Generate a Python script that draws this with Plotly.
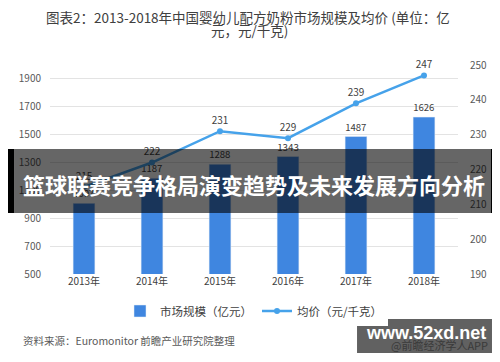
import plotly.graph_objects as go

years = ["2013年", "2014年", "2015年", "2016年", "2017年", "2018年"]
market_size = [1007, 1187, 1288, 1343, 1487, 1626]
avg_price = [215, 222, 231, 229, 239, 247]

FONT = "Noto Sans CJK SC, Noto Sans, sans-serif"
BAR_C = "#3F86E0"
LINE_C = "#46A2EA"

# the page body has an 8px margin, so the figure is drawn 8px smaller
W, H = 492, 354

fig = go.Figure()
fig.add_trace(go.Bar(
    x=years, y=market_size, name="市场规模（亿元）",
    marker=dict(color=BAR_C), width=0.32,
    text=[str(v) for v in market_size], textposition="outside",
    textfont=dict(size=10, color="#404040", family=FONT),
    cliponaxis=False,
))
fig.add_trace(go.Scatter(
    x=years, y=avg_price, name="均价（元/千克）", yaxis="y2",
    mode="lines+markers+text",
    line=dict(color=LINE_C, width=2.5),
    marker=dict(color=LINE_C, size=6),
    text=[str(v) for v in avg_price], textposition="top center",
    textfont=dict(size=10, color="#404040", family=FONT),
    cliponaxis=False,
))

fig.update_layout(
    width=W, height=H,
    margin=dict(l=42, r=42, t=57, b=88, autoexpand=False),
    paper_bgcolor="white", plot_bgcolor="white",
    font=dict(family=FONT, size=10, color="#595959"),
    showlegend=True,
    legend=dict(orientation="h", x=0.5, xanchor="center",
                yref="container", y=1 - 303 / H, yanchor="middle",
                font=dict(size=11.5, color="#404040"), itemwidth=30),
    xaxis=dict(showgrid=False, showline=False, ticks="", automargin=False,
               tickfont=dict(size=10, color="#404040")),
    yaxis=dict(range=[500, 2000], tick0=500, dtick=200, showgrid=True,
               gridcolor="#E3E3E3", gridwidth=1, zeroline=False, automargin=False,
               tickfont=dict(size=10, color="#595959"), ticklabelstandoff=8),
    yaxis2=dict(range=[190, 250], dtick=10, overlaying="y", side="right",
                showgrid=False, zeroline=False, automargin=False,
                tickfont=dict(size=10, color="#595959"), ticklabelstandoff=11),
    bargap=0.5,
)

# page pixel -> paper coordinates (plot area spans page x 50..450, y 65..274)
def px2x(p):
    return (p - 50) / 400.0

def py2y(p):
    return (274 - p) / 209.0

# title (two lines)
fig.add_annotation(xref="paper", yref="paper", x=px2x(244), y=py2y(17),
                   text="图表2：2013-2018年中国婴幼儿配方奶粉市场规模及均价 (单位：亿",
                   showarrow=False, xanchor="center", yanchor="middle",
                   font=dict(size=13.5, color="#404040", family=FONT))
fig.add_annotation(xref="paper", yref="paper", x=px2x(246), y=py2y(30),
                   text="元，元/千克)",
                   showarrow=False, xanchor="center", yanchor="middle",
                   font=dict(size=13.5, color="#404040", family=FONT))

# source
fig.add_annotation(xref="paper", yref="paper", x=px2x(22), y=py2y(340),
                   text="资料来源：Euromonitor 前瞻产业研究院整理",
                   showarrow=False, xanchor="left", yanchor="middle",
                   font=dict(size=10.5, color="#595959", family=FONT))

# banner overlay
fig.add_shape(type="rect", xref="paper", yref="paper", layer="above",
              x0=px2x(15), x1=px2x(482), y0=py2y(213), y1=py2y(149),
              fillcolor="rgba(0,0,0,0.6)", line=dict(width=0))
fig.add_shape(type="rect", xref="paper", yref="paper", layer="above",
              x0=px2x(8), x1=px2x(15), y0=py2y(213), y1=py2y(149),
              fillcolor="black", line=dict(width=0))
fig.add_shape(type="rect", xref="paper", yref="paper", layer="above",
              x0=px2x(482), x1=px2x(491.5), y0=py2y(213), y1=py2y(149),
              fillcolor="black", line=dict(width=0))
fig.add_annotation(xref="paper", yref="paper", x=px2x(250), y=py2y(184),
                   text="<b>篮球联赛竞争格局演变趋势及未来发展方向分析</b>",
                   showarrow=False, xanchor="center", yanchor="middle",
                   font=dict(size=22, color="white", family=FONT))

# watermark box
fig.add_shape(type="rect", xref="paper", yref="paper", layer="above",
              x0=px2x(351), x1=px2x(483), y0=py2y(353), y1=py2y(319),
              fillcolor="rgba(0,0,0,0.62)", line=dict(width=0))
fig.add_shape(type="rect", xref="paper", yref="paper", layer="above",
              x0=px2x(483), x1=px2x(491), y0=py2y(353), y1=py2y(319),
              fillcolor="black", line=dict(width=0))
fig.add_annotation(xref="paper", yref="paper", x=px2x(481), y=py2y(345),
                   text="@前瞻经济学人APP",
                   showarrow=False, xanchor="right", yanchor="middle",
                   font=dict(size=11, color="#3a3a3a", family=FONT))
fig.add_annotation(xref="paper", yref="paper", x=px2x(419), y=py2y(333),
                   text="<b>www.52xd.net</b>",
                   showarrow=False, xanchor="center", yanchor="middle",
                   font=dict(size=18, color="white", family="Liberation Sans, Arial, sans-serif"))

fig.write_html("out.html")
